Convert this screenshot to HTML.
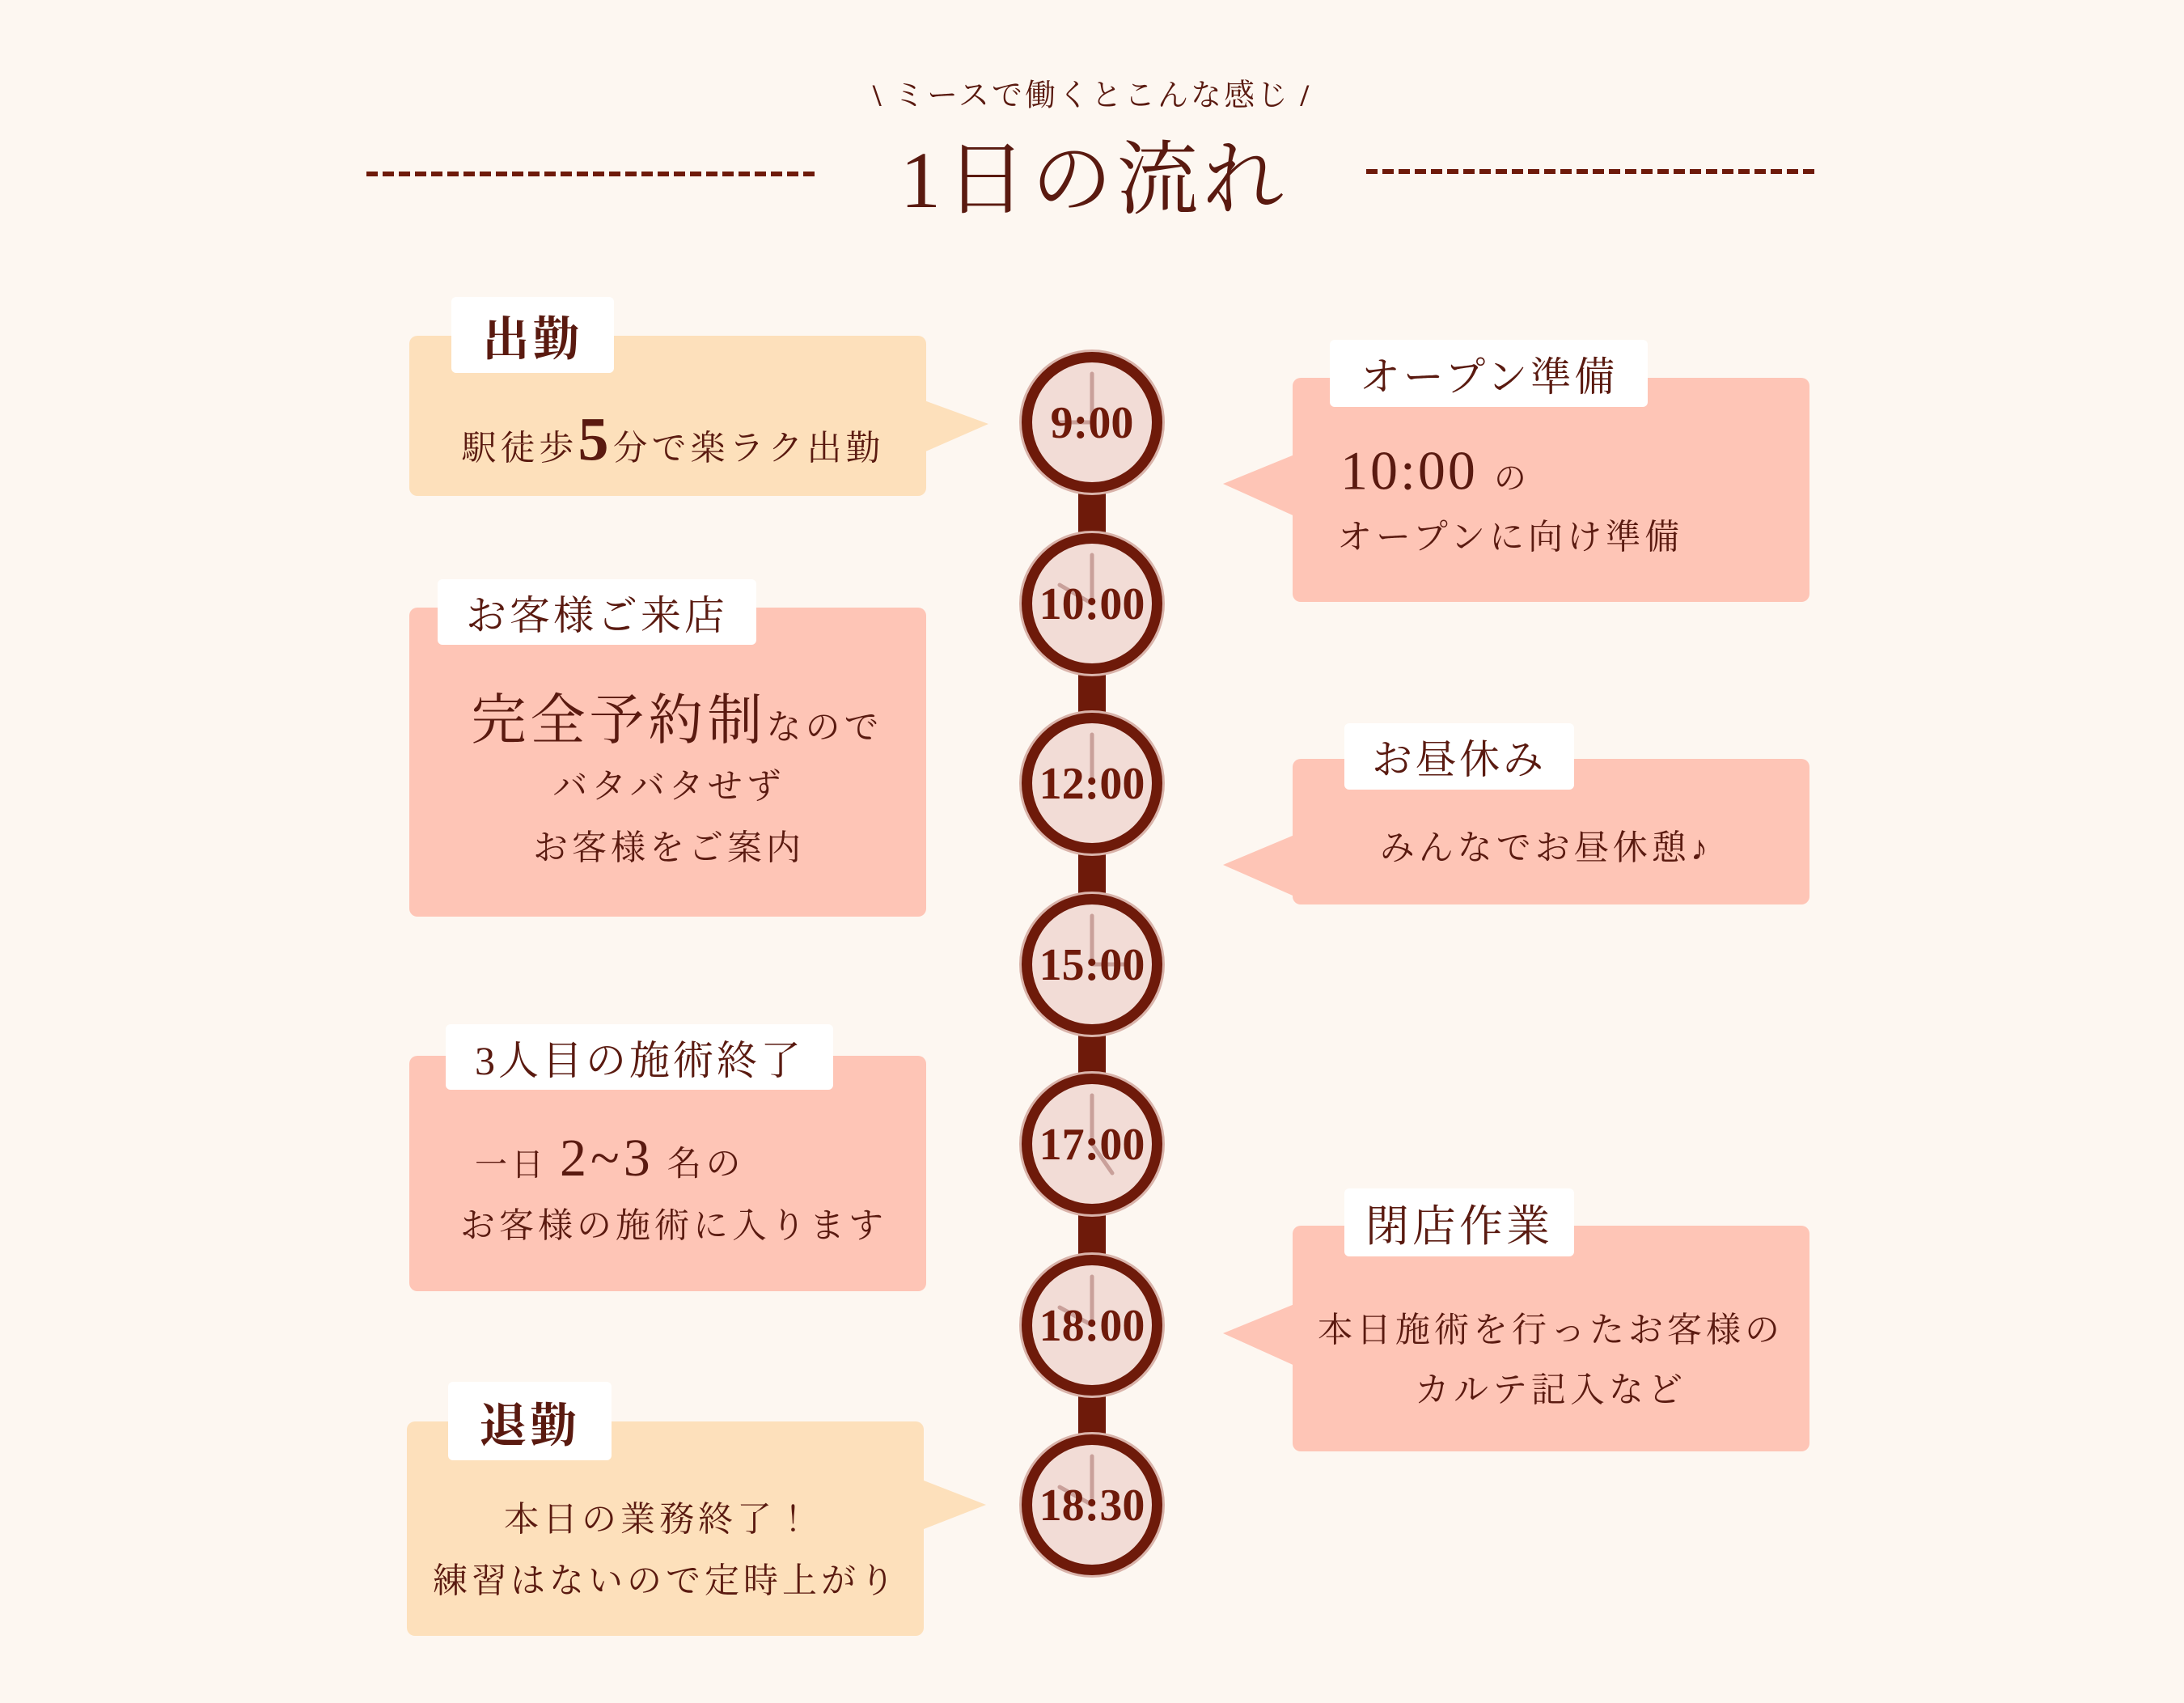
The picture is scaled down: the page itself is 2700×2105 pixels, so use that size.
<!DOCTYPE html>
<html><head><meta charset="utf-8"><style>
body{margin:0;width:2700px;height:2105px;background:#fdf7f1;position:relative;overflow:hidden;font-family:"Liberation Serif","Noto Serif CJK JP","Noto Serif CJK SC",serif;color:#5a1a10}
.a{position:absolute}
.box{position:absolute;border-radius:10px}
.y{background:#fde0bb}.p{background:#fec5b6}
.tab{position:absolute;background:#fff;border-radius:6px;display:flex;align-items:center;justify-content:center;white-space:nowrap;letter-spacing:4px}
.t{position:absolute;transform:translate(-50%,-50%);white-space:nowrap;letter-spacing:5px;font-size:43px}
.l{position:absolute;transform:translateY(-50%);white-space:nowrap;letter-spacing:5px;font-size:43px}
</style></head><body>
<div class="t" style="left:1350px;top:114px;font-size:38px;letter-spacing:3px"><b>\</b> ミースで働くとこんな感じ <b>/</b></div>
<div class="t" style="left:1353px;top:213px;font-size:100px;letter-spacing:6px">1日の流れ</div>
<svg class="a" style="left:0;top:0" width="2700" height="2105">
<line x1="453" y1="215" x2="1012" y2="215" stroke="#6e1a0a" stroke-width="6" stroke-dasharray="14,6"/>
<line x1="1689" y1="212" x2="2247" y2="212" stroke="#6e1a0a" stroke-width="6" stroke-dasharray="14,6"/>
<rect x="1333" y="522" width="34" height="1338" fill="#6e1a0a"/>
<polygon points="1140,494 1222,524 1140,560" fill="#fde0bb"/>
<polygon points="1137,1828 1219,1860 1137,1892" fill="#fde0bb"/>
<polygon points="1605,560 1512,598 1605,640" fill="#fec5b6"/>
<polygon points="1605,1030 1512,1069 1605,1110" fill="#fec5b6"/>
<polygon points="1605,1610 1512,1648 1605,1690" fill="#fec5b6"/>
<g stroke-linecap="round">
<g transform="translate(1350,522)"><circle r="90" fill="#d9b3aa"/><circle r="87" fill="#6e1a0a"/><circle r="74" fill="#f2dcd6"/><line x1="0" y1="0" x2="0" y2="-60" stroke="#c9a09a" stroke-width="5"/><line x1="0" y1="0" x2="-44" y2="0" stroke="#c9a09a" stroke-width="5"/></g>
<g transform="translate(1350,746)"><circle r="90" fill="#d9b3aa"/><circle r="87" fill="#6e1a0a"/><circle r="74" fill="#f2dcd6"/><line x1="0" y1="0" x2="0" y2="-60" stroke="#c9a09a" stroke-width="5"/><line x1="0" y1="0" x2="-40" y2="-23" stroke="#c9a09a" stroke-width="5"/></g>
<g transform="translate(1350,968)"><circle r="90" fill="#d9b3aa"/><circle r="87" fill="#6e1a0a"/><circle r="74" fill="#f2dcd6"/><line x1="0" y1="0" x2="0" y2="-60" stroke="#c9a09a" stroke-width="5"/></g>
<g transform="translate(1350,1192)"><circle r="90" fill="#d9b3aa"/><circle r="87" fill="#6e1a0a"/><circle r="74" fill="#f2dcd6"/><line x1="0" y1="0" x2="0" y2="-60" stroke="#c9a09a" stroke-width="5"/><line x1="0" y1="0" x2="44" y2="0" stroke="#c9a09a" stroke-width="5"/></g>
<g transform="translate(1350,1414)"><circle r="90" fill="#d9b3aa"/><circle r="87" fill="#6e1a0a"/><circle r="74" fill="#f2dcd6"/><line x1="0" y1="0" x2="0" y2="-60" stroke="#c9a09a" stroke-width="5"/><line x1="0" y1="0" x2="25" y2="36" stroke="#c9a09a" stroke-width="5"/></g>
<g transform="translate(1350,1638)"><circle r="90" fill="#d9b3aa"/><circle r="87" fill="#6e1a0a"/><circle r="74" fill="#f2dcd6"/><line x1="0" y1="0" x2="0" y2="-60" stroke="#c9a09a" stroke-width="5"/><line x1="0" y1="0" x2="-40" y2="-22" stroke="#c9a09a" stroke-width="5"/></g>
<g transform="translate(1350,1860)"><circle r="90" fill="#d9b3aa"/><circle r="87" fill="#6e1a0a"/><circle r="74" fill="#f2dcd6"/><line x1="0" y1="0" x2="0" y2="-60" stroke="#c9a09a" stroke-width="5"/><line x1="0" y1="0" x2="-40" y2="-22" stroke="#c9a09a" stroke-width="5"/></g>
</g>
<g font-family="Liberation Serif, serif" font-weight="bold" font-size="56" fill="#6e1a0a" text-anchor="middle">
<text x="1350" y="541">9:00</text><text x="1350" y="765">10:00</text><text x="1350" y="987">12:00</text><text x="1350" y="1211">15:00</text><text x="1350" y="1433">17:00</text><text x="1350" y="1657">18:00</text><text x="1350" y="1879">18:30</text>
</g>
</svg>

<div class="box y" style="left:506px;top:415px;width:639px;height:198px"></div>
<div class="tab" style="left:558px;top:367px;width:201px;height:94px;font-size:58px;font-weight:bold">出勤</div>
<div class="t" style="left:832px;top:544px">駅徒歩<span style="font-size:76px;font-weight:bold">5</span>分で楽ラク出勤</div>

<div class="box p" style="left:506px;top:751px;width:639px;height:382px"></div>
<div class="tab" style="left:541px;top:716px;width:394px;height:81px;font-size:50px">お客様ご来店</div>
<div class="t" style="left:837px;top:885px;font-size:68px">完全予約制<span style="font-size:43px">なので</span></div>
<div class="t" style="left:827px;top:969px">バタバタせず</div>
<div class="t" style="left:827px;top:1045px">お客様をご案内</div>

<div class="box p" style="left:506px;top:1305px;width:639px;height:291px"></div>
<div class="tab" style="left:551px;top:1266px;width:479px;height:81px;font-size:50px">3人目の施術終了</div>
<div class="l" style="left:587px;top:1432px"><span style="font-size:40px">一日 </span><span style="font-size:66px">2~3</span> <span style="font-size:43px">名の</span></div>
<div class="t" style="left:833px;top:1512px">お客様の施術に入ります</div>

<div class="box y" style="left:503px;top:1757px;width:639px;height:265px"></div>
<div class="tab" style="left:554px;top:1708px;width:202px;height:97px;font-size:58px;font-weight:bold">退勤</div>
<div class="t" style="left:815px;top:1875px">本日の業務終了！</div>
<div class="t" style="left:823px;top:1951px">練習はないので定時上がり</div>

<div class="box p" style="left:1598px;top:467px;width:639px;height:277px"></div>
<div class="tab" style="left:1644px;top:420px;width:393px;height:83px;font-size:50px">オープン準備</div>
<div class="l" style="left:1657px;top:582px;font-size:68px;letter-spacing:3px">10:00 <span style="font-size:40px">の</span></div>
<div class="l" style="left:1653px;top:661px">オープンに向け準備</div>

<div class="box p" style="left:1598px;top:938px;width:639px;height:180px"></div>
<div class="tab" style="left:1662px;top:894px;width:284px;height:82px;font-size:50px">お昼休み</div>
<div class="t" style="left:1911px;top:1045px">みんなでお昼休憩♪</div>

<div class="box p" style="left:1598px;top:1515px;width:639px;height:279px"></div>
<div class="tab" style="left:1662px;top:1469px;width:284px;height:84px;font-size:54px">閉店作業</div>
<div class="t" style="left:1917px;top:1641px">本日施術を行ったお客様の</div>
<div class="t" style="left:1917px;top:1715px">カルテ記入など</div>
</body></html>
